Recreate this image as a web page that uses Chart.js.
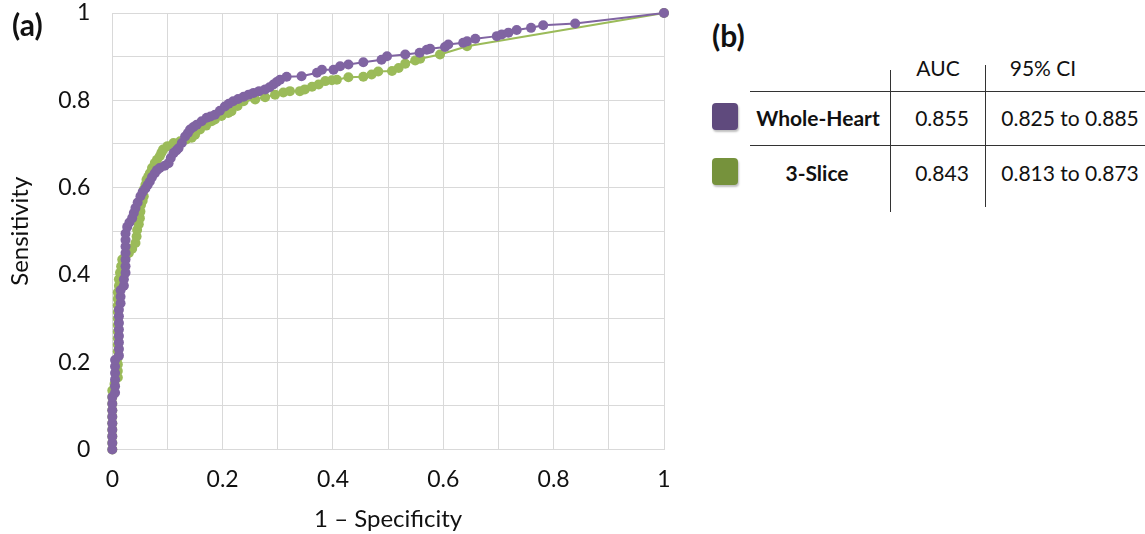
<!DOCTYPE html>
<html>
<head>
<meta charset="utf-8">
<script src="https://cdn.jsdelivr.net/npm/chart.js@4.4.1/dist/chart.umd.min.js"></script>
<style>
  body { margin: 0; background: #fff; font-family: Lato, sans-serif; }
  #wrap { position: relative; width: 1145px; height: 534px; overflow: hidden; }
  #roc { position: absolute; left: 0; top: 0; }
  .t { position: absolute; transform: translate(-50%, -50%); white-space: nowrap; color: #111; font-size: 21px; }
  .b { font-weight: bold; }
  .hl { position: absolute; height: 1px; background: #333; }
  .vl { position: absolute; width: 1px; background: #333; }
  .sq { position: absolute; width: 26px; height: 27px; border-radius: 4px; box-shadow: 1px 2px 2px rgba(0,0,0,0.25); }
  .lab { position: absolute; font-weight: bold; font-size: 30px; color: #111; }
</style>
</head>
<body>
<div id="wrap">
  <canvas id="roc" width="690" height="534"></canvas>
  <div class="lab" style="left:12px; top:6px;">(a)</div>
  <div class="lab" style="left:712px; top:17px;">(b)</div>

  <div class="t" style="left:938px; top:67px;">AUC</div>
  <div class="t" style="left:1043px; top:67px;">95% CI</div>
  <div class="hl" style="left:750px; top:91px; width:395px;"></div>
  <div class="hl" style="left:750px; top:145px; width:395px;"></div>
  <div class="vl" style="left:890px; top:70px; height:142px;"></div>
  <div class="vl" style="left:985px; top:65px; height:142px;"></div>

  <div class="sq" style="left:712px; top:103px; background:#5f4a7d;"></div>
  <div class="t b" style="left:818px; top:117px;">Whole-Heart</div>
  <div class="t" style="left:942px; top:117px;">0.855</div>
  <div class="t" style="left:1070px; top:117px;">0.825 to 0.885</div>

  <div class="sq" style="left:712px; top:158px; background:#76923c;"></div>
  <div class="t b" style="left:817px; top:172px;">3-Slice</div>
  <div class="t" style="left:942px; top:172px;">0.843</div>
  <div class="t" style="left:1070px; top:172px;">0.813 to 0.873</div>
</div>
<script>
// ROC points: false positive rate (1 - specificity) and sensitivity
const wholeHeartFpr = [0, 0, 0, 0, 0, 0, 0, 0, 0,
  0.005, 0.005, 0.005, 0.005, 0.005, 0.005,
  0.012, 0.012, 0.012, 0.012, 0.012, 0.012, 0.012, 0.012,
  0.015, 0.015, 0.015, 0.021, 0.021,
  0.024, 0.024, 0.024, 0.024, 0.024, 0.024, 0.024,
  0.027, 0.031, 0.036, 0.039, 0.042, 0.046, 0.051, 0.055, 0.06, 0.064, 0.068, 0.072, 0.077, 0.081, 0.086, 0.095,
  0.102, 0.106, 0.111, 0.116, 0.12, 0.126, 0.132, 0.137, 0.141, 0.147, 0.153, 0.162, 0.171, 0.178, 0.186, 0.195,
  0.204, 0.211, 0.219, 0.228, 0.238, 0.247, 0.256, 0.266, 0.277, 0.285, 0.292, 0.298, 0.304, 0.316, 0.343, 0.371,
  0.38, 0.401, 0.413, 0.428, 0.455, 0.488, 0.498, 0.531, 0.557, 0.57, 0.576, 0.603, 0.609, 0.636, 0.643, 0.658,
  0.697, 0.706, 0.718, 0.733, 0.759, 0.781, 0.839, 1]
const wholeHeartTpr = [0, 0.015, 0.03, 0.045, 0.06, 0.075, 0.09, 0.105, 0.12,
  0.13, 0.145, 0.16, 0.175, 0.19, 0.205,
  0.215, 0.23, 0.245, 0.26, 0.275, 0.29, 0.305, 0.32,
  0.335, 0.35, 0.365, 0.375, 0.39,
  0.405, 0.42, 0.435, 0.45, 0.465, 0.48, 0.495,
  0.51, 0.52, 0.53, 0.542, 0.553, 0.566, 0.58, 0.59, 0.598, 0.606, 0.614, 0.624, 0.633, 0.64, 0.645, 0.65,
  0.656, 0.668, 0.679, 0.685, 0.69, 0.702, 0.717, 0.725, 0.733, 0.739, 0.744, 0.752, 0.76, 0.763, 0.767, 0.776,
  0.786, 0.792, 0.798, 0.803, 0.808, 0.813, 0.817, 0.821, 0.825, 0.83, 0.836, 0.842, 0.847, 0.854, 0.855, 0.863,
  0.87, 0.87, 0.878, 0.882, 0.887, 0.893, 0.901, 0.905, 0.909, 0.916, 0.918, 0.922, 0.928, 0.932, 0.935, 0.941,
  0.947, 0.951, 0.955, 0.961, 0.966, 0.972, 0.976, 1]

const sliceFpr = [0, 0, 0, 0, 0, 0, 0, 0, 0, 0,
  0.004, 0.01, 0.01, 0.01, 0.01, 0.01, 0.01, 0.01, 0.01, 0.01, 0.01, 0.01, 0.01, 0.01, 0.01,
  0.012, 0.012, 0.014, 0.016, 0.018, 0.024, 0.03, 0.036, 0.042, 0.044, 0.045, 0.048, 0.05, 0.051, 0.052, 0.055,
  0.057, 0.057, 0.06, 0.062, 0.065, 0.068, 0.072, 0.077, 0.081, 0.086, 0.089, 0.092, 0.1, 0.111, 0.123, 0.134,
  0.144, 0.15, 0.159, 0.17, 0.18, 0.186, 0.198, 0.21, 0.216, 0.227, 0.238, 0.259, 0.277, 0.295, 0.31, 0.322,
  0.34, 0.349, 0.362, 0.374, 0.386, 0.398, 0.407, 0.428, 0.455, 0.47, 0.482, 0.507, 0.519, 0.531, 0.549, 0.558,
  0.594, 0.643, 1]
const sliceTpr = [0, 0.015, 0.03, 0.045, 0.06, 0.075, 0.09, 0.105, 0.12, 0.135,
  0.15, 0.165, 0.18, 0.195, 0.21, 0.225, 0.24, 0.255, 0.27, 0.285, 0.3, 0.315, 0.33, 0.345, 0.36,
  0.375, 0.39, 0.405, 0.42, 0.435, 0.443, 0.45, 0.46, 0.473, 0.488, 0.503, 0.516, 0.53, 0.545, 0.56, 0.57,
  0.58, 0.595, 0.606, 0.618, 0.625, 0.633, 0.645, 0.656, 0.664, 0.672, 0.68, 0.687, 0.695, 0.702, 0.706, 0.71,
  0.714, 0.721, 0.733, 0.742, 0.752, 0.756, 0.764, 0.771, 0.775, 0.787, 0.798, 0.802, 0.807, 0.813, 0.818, 0.821,
  0.821, 0.825, 0.831, 0.836, 0.844, 0.846, 0.847, 0.853, 0.854, 0.859, 0.866, 0.867, 0.874, 0.884, 0.891, 0.895,
  0.905, 0.924, 1]

const xTickLabels = ['0', '', '0.2', '', '0.4', '', '0.6', '', '0.8', '', '1']
const yTickLabels = ['0', '', '0.2', '', '0.4', '', '0.6', '', '0.8', '', '1']

const purple = '#8064a2'
const green = '#9bbb59'
const grid = '#d9d9d9'

const toPoints = (xs, ys) => xs.map((x, i) => ({ x: x, y: ys[i] }))

const tickFont = { family: 'Lato', size: 23, lineHeight: 1 }
const titleFont = { family: 'Lato', size: 24 }

new Chart(document.getElementById('roc'), {
  type: 'scatter',
  data: {
    datasets: [
      {
        label: 'Whole-Heart',
        data: toPoints(wholeHeartFpr, wholeHeartTpr),
        showLine: true,
        borderColor: purple,
        backgroundColor: purple,
        borderWidth: 2,
        pointRadius: 5,
        pointBorderWidth: 0,
        clip: false
      },
      {
        label: '3-Slice',
        data: toPoints(sliceFpr, sliceTpr),
        showLine: true,
        borderColor: green,
        backgroundColor: green,
        borderWidth: 2,
        pointRadius: 5,
        pointBorderWidth: 0,
        clip: false
      }
    ]
  },
  options: {
    responsive: false,
    animation: false,
    layout: { padding: { left: 0, top: 13, right: 26, bottom: 0 } },
    plugins: { legend: { display: false }, tooltip: { enabled: false } },
    scales: {
      x: {
        type: 'linear',
        min: 0,
        max: 1,
        ticks: {
          stepSize: 0.1,
          autoSkip: false,
          maxRotation: 0,
          padding: 19,
          color: '#111',
          font: tickFont,
          callback: (v, i) => xTickLabels[i]
        },
        grid: { color: grid, lineWidth: 1, drawTicks: false },
        border: { color: grid },
        title: { display: true, text: '1 – Specificity', color: '#111', font: titleFont, padding: { top: 0, bottom: 0 } },
        afterFit: (s) => { s.height = 84.5 }
      },
      y: {
        min: 0,
        max: 1,
        ticks: {
          stepSize: 0.1,
          autoSkip: false,
          padding: 22,
          color: '#111',
          font: tickFont,
          callback: (v, i) => yTickLabels[i]
        },
        grid: { color: grid, lineWidth: 1, drawTicks: false },
        border: { color: grid },
        title: { display: true, text: 'Sensitivity', color: '#111', font: titleFont, padding: { top: 6, bottom: 0 } },
        afterFit: (s) => { s.width = 112.3; s.paddingTop = 0; s.paddingBottom = 0 }
      }
    }
  }
})
</script>
</body>
</html>
